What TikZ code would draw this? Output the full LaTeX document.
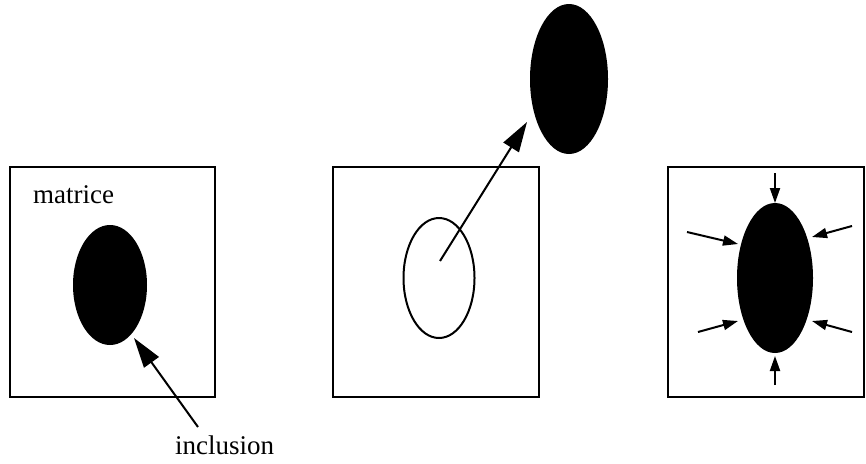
\documentclass[tikz,border=0pt]{standalone}
\usepackage{fontspec}
\setmainfont{Liberation Serif}
\usetikzlibrary{shapes.geometric,arrows.meta}
\begin{document}
\begin{tikzpicture}[x=1pt,y=-1pt,
  boxline/.style={draw,line width=2pt},
  solid ell/.style={ellipse,fill=black,draw=none,inner sep=0pt},
  open ell/.style={ellipse,draw,line width=2pt,inner sep=0pt},
  bigarrow/.style={line width=2pt,-{Triangle[length=30pt,width=18pt]}},
  smallarrow/.style={line width=2pt,-{Triangle[length=15pt,width=10pt]}},
  lbl/.style={font=\fontsize{27}{30}\selectfont,inner sep=0pt}]
\useasboundingbox (0,0) rectangle (866,463);
% boxes
\node[boxline,minimum width=205pt,minimum height=230pt,inner sep=0pt] (b1) at (112.5,282) {};
\node[boxline,minimum width=206pt,minimum height=230pt,inner sep=0pt] (b2) at (436,282) {};
\node[boxline,minimum width=196pt,minimum height=230pt,inner sep=0pt] (b3) at (766,282) {};
% panel 1
\node[solid ell,minimum width=74pt,minimum height=120pt] (e1) at (110,285) {};
\node[lbl,anchor=base west] (mat) at (33,203) {matrice};
\node[lbl,anchor=base west] (inc) at (175,454) {inclusion};
\coordinate (inctail) at (198,427);
\coordinate (inctip) at (134,338);
\draw[bigarrow] (inctail) -- (inctip);
% panel 2
\node[open ell,minimum width=71pt,minimum height=120pt] (e2) at (439,278) {};
\node[solid ell,minimum width=78pt,minimum height=150pt] (e2top) at (569,79) {};
\coordinate (e2c) at (440,261);
\coordinate (e2tip) at (527,122);
\draw[bigarrow] (e2c) -- (e2tip);
% panel 3
\node[solid ell,minimum width=76pt,minimum height=150pt] (e3) at (775,278) {};
\coordinate (t1) at (775,173); \coordinate (h1) at (775,203);
\coordinate (t2) at (775,385); \coordinate (h2) at (775,356);
\coordinate (t3) at (687,232); \coordinate (h3) at (738,244);
\coordinate (t4) at (852,226); \coordinate (h4) at (812,237);
\coordinate (t5) at (698,332); \coordinate (h5) at (738,321);
\coordinate (t6) at (852,332); \coordinate (h6) at (812,321);
\foreach \i in {1,...,6} \draw[smallarrow] (t\i) -- (h\i);
\end{tikzpicture}
\end{document}
